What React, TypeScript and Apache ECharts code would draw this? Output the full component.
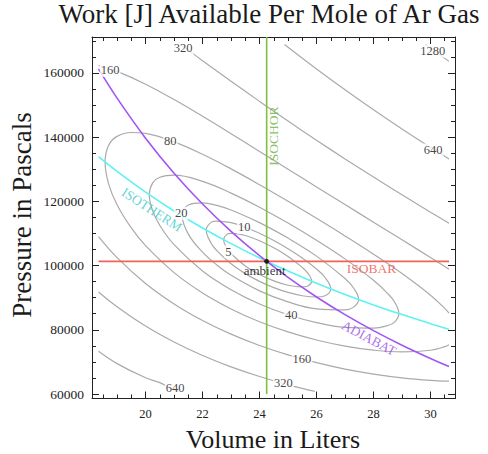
import React, { useEffect, useRef } from 'react';
import * as echarts from 'echarts';

// Axis ranges (Volume in liters, Pressure in pascals)
const volumeRange = [18.12, 30.86];
const pressureRange = [58600, 171200];
const ambient = [24.25, 101325];

// Contours of available work [J] as [V, P]
const contour5 = [[24, 107734], [24.5, 105534], [25, 102845], [25.5, 99436], [25.7, 97578], [25.83, 95127], [25.7, 93662], [25.5, 93342], [25, 93865], [24.5, 95224], [24, 97209], [23.5, 99884], [23, 103706], [22.85, 105380], [22.74, 108053], [22.85, 109717], [23, 110021], [23.5, 109376], [24, 107734]];
const contour10 = [[24, 110057], [24.5, 107810], [25, 105256], [25.5, 102350], [26, 98923], [26.3, 96291], [26.5, 92722], [26.3, 90623], [26, 90221], [25.5, 90604], [25, 91634], [24.5, 93131], [24, 95072], [23.5, 97499], [23, 100561], [22.5, 104671], [22.3, 106974], [22.13, 111033], [22.3, 113460], [22.5, 113868], [23, 113363], [23.5, 111950], [24, 110057]];
const contour20 = [[24, 113383], [25, 108564], [26, 102950], [27, 95977], [27.3, 93015], [27.48, 89415], [27.3, 87062], [27, 86208], [26, 86535], [25, 88679], [24, 92114], [23, 97008], [22.5, 100199], [22, 104178], [21.5, 109813], [21.29, 115412], [21.5, 118878], [22, 119548], [22.5, 118735], [23, 117298], [24, 113383]];
const contour40 = [[24, 118188], [25, 113256], [26, 107910], [27, 102090], [28, 95427], [28.5, 91290], [28.75, 88510], [28.89, 85052], [28.75, 82492], [28.5, 81333], [28, 80505], [27, 80753], [26, 82258], [25, 84699], [24, 88045], [23, 92496], [22, 98317], [21, 106519], [20.5, 112523], [20.25, 117029], [20.13, 122063], [20.25, 125755], [20.5, 127508], [21, 128159], [22, 126218], [23, 122579], [24, 118188]];
const contour80 = [[30.65, 85210], [30.5, 86682], [30, 90786], [29, 97522], [28, 103542], [27, 109229], [26, 114717], [25, 120044], [24, 125201], [23, 130121], [22, 134664], [21, 138553], [20, 141156], [19.5, 141457], [19, 140249], [18.7, 137423], [18.58, 132245], [18.7, 125552], [19, 118978], [19.5, 111727], [20, 106213], [21, 97818], [22, 91485], [23, 86503], [24, 82518], [25, 79334], [26, 76820], [27, 74930], [28, 73662], [29, 73105], [30, 73622], [30.5, 74737], [30.65, 75327]];
const contour160Upper = [[18.35, 162309], [19, 160491], [20, 156501], [21, 151703], [22, 146490], [23, 141074], [24, 135570], [25, 130037], [26, 124510], [27, 119008], [28, 113523], [29, 108039], [30, 102519], [30.65, 98870]];
const contour160Lower = [[18.35, 109023], [19, 102471], [20, 94420], [21, 88055], [22, 82891], [23, 78640], [24, 75111], [25, 72184], [26, 69759], [27, 67756], [28, 66214], [29, 65041], [30, 64257], [30.65, 63986]];
const contour320Upper = [[21.22, 168900], [22, 163829], [23, 157422], [24, 151146], [25, 145021], [26, 139043], [27, 133229], [28, 127562], [29, 122039], [30, 116642], [30.65, 113196]];
const contour320Lower = [[18.35, 91782], [19, 87180], [20, 81163], [21, 76178], [22, 71985], [23, 68451], [24, 65438], [25, 62868], [25.94, 60800]];
const contour640Upper = [[24.88, 168875], [25, 168031], [26, 161258], [27, 154774], [28, 148555], [29, 142578], [30, 136834], [30.65, 133213]];
const contour640Lower = [[18.35, 73299], [19, 69462], [20, 65047], [20.5, 63545], [21, 61295], [21.16, 60800]];
const contour1280Upper = [[29.82, 168875], [30, 167729], [30.65, 163607]];

// Process lines
const isotherm = [[18.35, 133904], [19, 129323], [20, 122857], [21, 117006], [22, 111688], [23, 106832], [24, 102380], [25, 98285], [26, 94505], [27, 91005], [28, 87755], [29, 84729], [30, 81904], [30.65, 80167]];
const adiabat = [[18.35, 161259], [19, 152164], [20, 139695], [21, 128785], [22, 119177], [23, 110670], [24, 103090], [25, 96309], [26, 90216], [27, 84716], [28, 79737], [29, 75207], [30, 71076], [30.65, 68581]];
const isobar = [[18.35, 101325], [30.65, 101325]];
const isochor = [[24.25, 60000], [24.25, 171200]];

// Contour level labels: [text, V, P]
const contourLabels: [string, number, number][] = [
  ['5', 22.91, 104300], ['10', 23.46, 111900], ['20', 21.25, 116300], ['40', 25.11, 84600],
  ['80', 20.87, 138700], ['160', 18.76, 160800], ['160', 25.49, 70900], ['320', 21.32, 167700],
  ['320', 24.84, 63300], ['640', 21.04, 61800], ['640', 30.09, 136000], ['1280', 30.08, 166800],
];

const isothermLabelAt = [20.22, 117400];
const adiabatLabelAt = [27.84, 77400];
const isobarLabelAt = [27.93, 99100];
const isochorLabelAt = [24.49, 140300];
const ambientLabelAt = [24.18, 98600];

const FONT = "Liberation Serif, Times New Roman, serif";
const GRAY = '#aaaaaa';
const FRAME = '#222222';

function line(data: number[][], color: string, width: number, smooth: number | boolean, z = 2) {
  return {
    type: 'line', data, showSymbol: false, symbol: 'none', smooth, silent: true, z,
    lineStyle: { color, width }, clip: true,
  };
}

function textPoint(at: number[], text: string, color: string, rotate: number, fontSize: number) {
  return {
    value: at, name: text,
    label: { show: true, position: 'inside', formatter: text, color, rotate, fontSize, fontFamily: FONT },
  };
}

export default function App() {
  const ref = useRef<HTMLDivElement>(null);
  useEffect(() => {
    if (!ref.current) return;
    const chart = echarts.init(ref.current, undefined, { renderer: 'svg' });
    const axisCommon = {
      type: 'value',
      axisLine: { show: true, onZero: false, lineStyle: { color: FRAME, width: 1 } },
      axisTick: { show: true, inside: true, length: 7, lineStyle: { color: FRAME, width: 1 } },
      minorTick: { show: true, splitNumber: 4, length: 4, lineStyle: { color: FRAME, width: 1 } },
      splitLine: { show: false },
      minorSplitLine: { show: false },
    };
    const xAxisBase = { ...axisCommon, min: volumeRange[0], max: volumeRange[1], splitNumber: 6 };
    const yAxisBase = { ...axisCommon, min: pressureRange[0], max: pressureRange[1], splitNumber: 6 };
    const labelStyle = {
      showMinLabel: false, showMaxLabel: false, fontFamily: FONT, color: FRAME,
      formatter: (v: number) => String(v),
    };

    const contourSeries = [
      contour5, contour10, contour20, contour40, contour80,
      contour160Upper, contour160Lower, contour320Upper, contour320Lower,
      contour640Upper, contour640Lower, contour1280Upper,
    ].map((d) => line(d, GRAY, 1.2, 0.4, 2));

    const bigText = (text: string, x: number, y: number, size: number, rotation = 0) => ({
      type: 'text', x, y, rotation, silent: true,
      style: {
        text, fontSize: size, fontFamily: FONT, fill: '#1a1a1a',
        align: 'center', verticalAlign: 'middle', textAlign: 'center', textVerticalAlign: 'middle',
      },
    });

    chart.setOption({
      animation: false,
      backgroundColor: '#ffffff',
      grid: { left: 92, right: 33, top: 37, bottom: 55.5 },
      xAxis: [
        { ...xAxisBase, position: 'bottom', axisLabel: { ...labelStyle, fontSize: 12.5, margin: 9 } },
        { ...xAxisBase, position: 'top', axisLabel: { show: false } },
      ],
      yAxis: [
        { ...yAxisBase, position: 'left', axisLabel: { ...labelStyle, fontSize: 13.5, margin: 8 } },
        { ...yAxisBase, position: 'right', axisLabel: { show: false } },
      ],
      graphic: [
        bigText('Work [J] Available Per Mole of Ar Gas', 269, 13.5, 27),
        bigText('Volume in Liters', 273, 439, 26),
        bigText('Pressure in Pascals', 22, 215, 27, Math.PI / 2),
      ],
      series: [
        ...contourSeries,
        line(isotherm, '#5ef2f2', 1.6, 0.4, 3),
        line(adiabat, '#a255f2', 1.6, 0.4, 3),
        line(isobar, '#f0625a', 1.6, false, 3),
        line(isochor, '#7cc142', 1.6, false, 3),
        {
          type: 'scatter', symbolSize: 1, silent: true, z: 5,
          itemStyle: { color: 'rgba(0,0,0,0)' },
          data: contourLabels.map(([t, v, p]) => ({ value: [v, p], name: t })),
          label: {
            show: true, position: 'inside', formatter: '{b}', fontFamily: FONT, fontSize: 12.5,
            color: '#111111', backgroundColor: '#ffffff', padding: [0, 1],
          },
        },
        {
          type: 'scatter', symbolSize: 1, silent: true, z: 6,
          itemStyle: { color: 'rgba(0,0,0,0)' },
          data: [
            textPoint(isothermLabelAt, 'ISOTHERM', '#3ec8c8', -33, 13.5),
            textPoint(adiabatLabelAt, 'ADIABAT', '#9a4ee6', -28, 13.5),
            textPoint(isobarLabelAt, 'ISOBAR', '#ec5248', 0, 13.5),
            textPoint(isochorLabelAt, 'ISOCHOR', '#6cb23a', 90, 13.5),
            textPoint(ambientLabelAt, 'ambient', '#000000', 0, 13),
          ],
        },
        {
          type: 'scatter', symbolSize: 5, silent: true, z: 7,
          itemStyle: { color: '#000000' },
          data: [ambient],
        },
      ],
    });
    return () => chart.dispose();
  }, []);
  return <div ref={ref} style={{ position: 'fixed', left: 0, top: 0, width: 488, height: 454, background: '#fff' }} />;
}
